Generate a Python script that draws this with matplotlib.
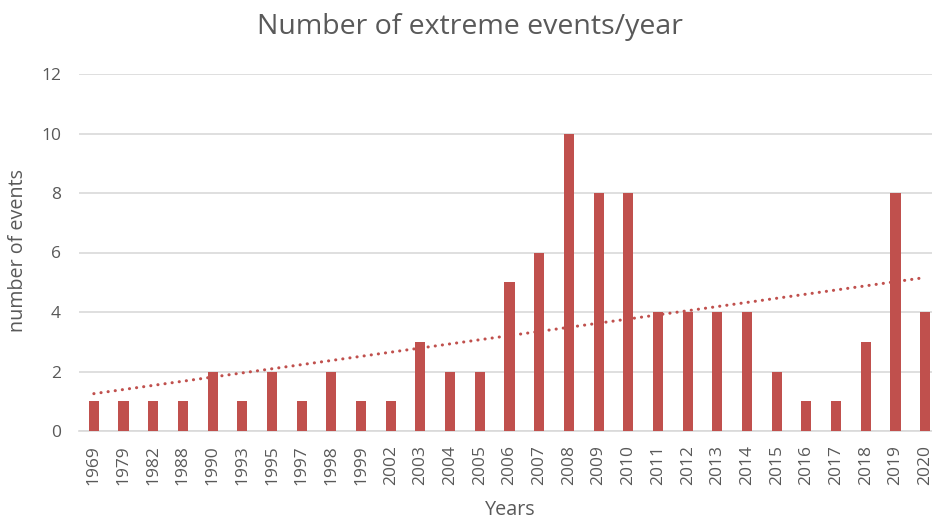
import matplotlib.pyplot as plt
import numpy as np

years = ["1969", "1979", "1982", "1988", "1990", "1993", "1995", "1997", "1998", "1999",
         "2002", "2003", "2004", "2005", "2006", "2007", "2008", "2009", "2010", "2011",
         "2012", "2013", "2014", "2015", "2016", "2017", "2018", "2019", "2020"]
events = [1, 1, 1, 1, 2, 1, 2, 1, 2, 1,
          1, 3, 2, 2, 5, 6, 10, 8, 8, 4,
          4, 4, 4, 2, 1, 1, 3, 8, 4]

bar_color = "#C0504D"
text_color = "#595959"
grid_color = "#D9D9D9"

plt.rcParams["font.family"] = ["Open Sans", "DejaVu Sans"]

W, H = 932, 519
fig = plt.figure(figsize=(W / 100, H / 100), dpi=100)
# plot area in pixels: left 79, right ~940 (cropped), top 74, bottom 431
ax = fig.add_axes([79 / W, 1 - 431 / H, (940 - 79) / W, (431 - 74) / H])

x = np.arange(len(years))
ax.bar(x, events, width=0.34, color=bar_color, zorder=3)

# linear trendline
k, b = np.polyfit(x, events, 1)
ax.plot(x, k * x + b, color=bar_color, lw=2.2, linestyle=(0, (0.05, 2.3)),
        dash_capstyle="round", zorder=4)

ax.set_xlim(-0.5, len(years) - 0.5)
ax.set_ylim(0, 12)
ax.set_yticks(range(0, 13, 2))
ax.set_xticks(x)
ax.set_xticklabels(years, rotation=90)
ax.tick_params(axis="both", length=0, colors=text_color, labelsize=12.5)
ax.tick_params(axis="y", pad=13)
ax.tick_params(axis="x", pad=10)

ax.grid(axis="y", color=grid_color, lw=1.2, zorder=0)
for s in ["top", "right", "left"]:
    ax.spines[s].set_visible(False)
ax.spines["bottom"].set_color(grid_color)
ax.spines["bottom"].set_linewidth(1.2)

fig.text(470 / W, 1 - 27 / H, "Number of extreme events/year", ha="center", va="center",
         fontsize=20.5, color=text_color)
fig.text(18 / W, 1 - 251 / H, "number of events", ha="center", va="center",
         rotation=90, fontsize=14.2, color=text_color)
fig.text(510 / W, 1 - 510 / H, "Years", ha="center", va="center",
         fontsize=14.2, color=text_color)

fig.savefig("out.png", dpi=100)
